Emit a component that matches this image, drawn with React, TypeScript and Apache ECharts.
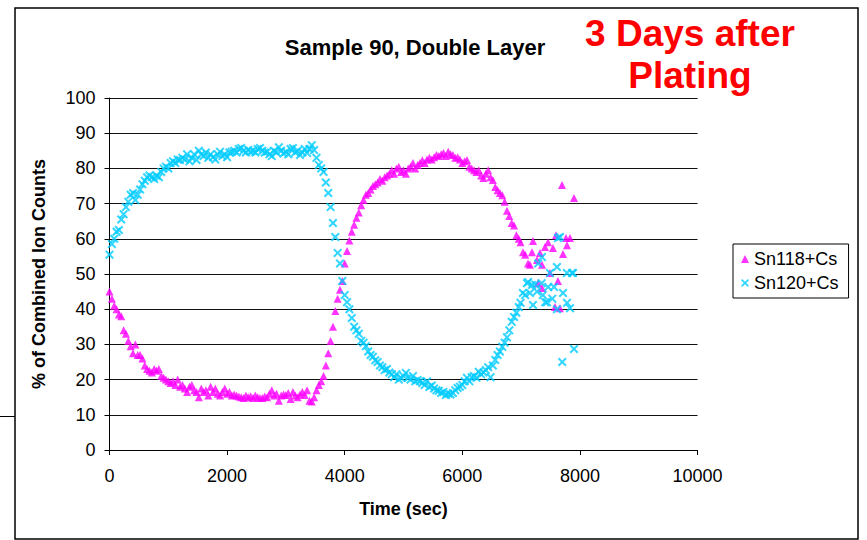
import React, { useEffect, useRef } from "react";
import * as echarts from "echarts";

// Sampling times (sec) of the regular part of the profile
const times = [
  0, 40, 80, 120, 160, 200, 240, 280, 320, 360,
  400, 440, 480, 520, 560, 600, 640, 680, 720, 760,
  800, 840, 880, 920, 960, 1000, 1040, 1080, 1120, 1160,
  1200, 1240, 1280, 1320, 1360, 1400, 1440, 1480, 1520, 1560,
  1600, 1640, 1680, 1720, 1760, 1800, 1840, 1880, 1920, 1960,
  2000, 2040, 2080, 2120, 2160, 2200, 2240, 2280, 2320, 2360,
  2400, 2440, 2480, 2520, 2560, 2600, 2640, 2680, 2720, 2760,
  2800, 2840, 2880, 2920, 2960, 3000, 3040, 3080, 3120, 3160,
  3200, 3240, 3280, 3320, 3360, 3400, 3440, 3480, 3520, 3560,
  3600, 3640, 3680, 3720, 3760, 3800, 3840, 3880, 3920, 3960,
  4000, 4040, 4080, 4120, 4160, 4200, 4240, 4280, 4320, 4360,
  4400, 4440, 4480, 4520, 4560, 4600, 4640, 4680, 4720, 4760,
  4800, 4840, 4880, 4920, 4960, 5000, 5040, 5080, 5120, 5160,
  5200, 5240, 5280, 5320, 5360, 5400, 5440, 5480, 5520, 5560,
  5600, 5640, 5680, 5720, 5760, 5800, 5840, 5880, 5920, 5960,
  6000, 6040, 6080, 6120, 6160, 6200, 6240, 6280, 6320, 6360,
  6400, 6440, 6480, 6520, 6560, 6600, 6640, 6680, 6720, 6760,
  6800, 6840, 6880, 6920, 6960,
];

// Sn118+Cs (% of combined ion counts)
const sn118 = [
  45, 43, 41, 40, 38.5, 38, 34, 33, 31, 29.5,
  27.5, 30, 27, 27, 26, 24, 23, 22.5, 22, 23,
  22.5, 23, 21, 20.5, 20, 19.5, 19, 19.5, 18.5, 20,
  18, 18.5, 17.5, 16.5, 18, 18.5, 17, 16.5, 15, 17.5,
  16.5, 17, 15.5, 18, 16.5, 17.5, 16, 15.5, 16.5, 17.5,
  16, 16.5, 15.5, 15.8, 15.5, 15.2, 15, 14.8, 15.5, 15,
  15.3, 14.8, 15.5, 15, 14.8, 14.8, 15.2, 15, 16, 17,
  15.5, 16, 14, 15.5, 15.8, 15.6, 16.2, 14.5, 16.5, 15.5,
  15, 15.8, 16.5, 15.6, 17, 14, 13.8, 15, 17, 18.5,
  19.5, 21, 24, 27.5, 31, 35, 39.5, 43, 45.5, 48,
  53, 56.5, 59.5, 62, 64, 66, 67.5, 69.5, 71, 72.5,
  73, 74, 75, 75.5, 76, 77, 76.5, 77.5, 78, 78.5,
  79.5, 78.5, 80, 80.5, 79, 79.5, 78.5, 80, 80.5, 81.5,
  80, 81, 81.5, 82.3, 81.5, 82.5, 83, 82.5, 83.2, 83.8,
  83.5, 84, 84.4, 83.5, 84.7, 84, 83.8, 83, 83.2, 82.5,
  81.5, 82, 82.4, 80.5, 80, 79.5, 79, 79.5, 78, 77.3,
  78.5, 79.5, 77.5, 76.7, 74.7, 73.8, 73, 72.4, 70.5, 68,
  66.5, 64.5, 63.8, 61, 60,
];

// Sn120+Cs (% of combined ion counts)
const sn120 = [
  55.5, 58.5, 60, 62, 62.5, 65.5, 67, 69, 70.5, 72.5,
  73, 71, 72.5, 74, 75.5, 76.5, 77.5, 78, 77.5, 77,
  78, 77.5, 79, 80, 80.5, 80, 81.5, 82, 81.5, 82.5,
  82.4, 83, 82.5, 84, 82, 83, 84, 82.4, 85, 84,
  83.5, 84.5, 83, 84, 83.2, 82.5, 84, 84.7, 83.5, 84,
  83.2, 84.5, 84.7, 85, 84.5, 85.5, 85.8, 85, 84.5, 85.2,
  84.7, 85, 84.5, 85.5, 85.8, 85, 84.5, 84.7, 84, 83.5,
  85, 84.5, 86, 85, 84.2, 84.7, 84, 85.5, 85.8, 84.5,
  85, 83.8, 84.5, 85.5, 84.4, 85.5, 86.6, 85.2, 83, 81,
  80, 79, 76, 73, 69, 64.5, 60.5, 56, 53, 48,
  44, 42, 40, 37.5, 35, 34, 33, 31, 30.5, 29.5,
  28, 27, 26.5, 25.5, 25, 24, 23.5, 22.7, 23, 22,
  21.5, 20.7, 21.5, 20, 20.5, 21, 21.9, 20.5, 20, 21,
  19.5, 19.9, 19.5, 19, 18.5, 19.5, 17.9, 18.3, 17.5, 17,
  16.8, 16.2, 16.5, 15.6, 16, 15.8, 16.2, 17, 17.6, 18,
  18.5, 19.5, 20.5, 19.5, 20.7, 21, 20.5, 22.2, 21.5, 22,
  22.7, 23.5, 20.7, 24, 25.6, 27, 28, 29.3, 30.5, 32,
  34, 36.4, 37.8, 39, 40.6,
];

// Scattered end of the profile (irregular points)
const tail118Times = [6990, 7032, 7070, 7117, 7150, 7185, 7202, 7270, 7287, 7321, 7355, 7355, 7406, 7457, 7491, 7541, 7576, 7594, 7627, 7661, 7696, 7713, 7764, 7781, 7832, 7900];
const tail118Values = [59, 56.2, 55.5, 53, 52.6, 56.2, 59.4, 54, 47.4, 56, 52.6, 46, 57.7, 59, 50.3, 57.4, 40.6, 61, 48, 40.3, 75.3, 55.7, 60.2, 58.2, 60.2, 71.6];

const tail120Times = [6990, 7030, 7070, 7100, 7120, 7150, 7185, 7202, 7240, 7270, 7290, 7350, 7355, 7370, 7410, 7440, 7460, 7491, 7530, 7560, 7610, 7627, 7610, 7661, 7700, 7713, 7781, 7780, 7832, 7865, 7883, 7900];
const tail120Values = [41.8, 44.6, 44, 47.4, 47.7, 44.6, 46.9, 41.2, 47, 45, 53, 47.4, 54.8, 44, 42, 42, 46.3, 50.3, 43, 46.3, 52, 60.2, 40, 60.5, 25, 44.6, 41.8, 50.3, 40.3, 50.3, 50.3, 28.7];

const seriesNames = ["Sn118+Cs", "Sn120+Cs"];
const xTicks = { min: 0, max: 10000, interval: 2000 };
const yTicks = { min: 0, max: 100, interval: 10 };

const FONT = "'Liberation Sans', Arial, Helvetica, sans-serif";
const X_ICON = "path://M0,1.6L1.6,0L5,3.4L8.4,0L10,1.6L6.6,5L10,8.4L8.4,10L5,6.6L1.6,10L0,8.4L3.4,5Z";

export default function App() {
  const ref = useRef<HTMLDivElement>(null);

  useEffect(() => {
    if (!ref.current) return;
    const chart = echarts.init(ref.current, undefined, { renderer: "svg" });

    const d118 = times.map((t, i) => [t, sn118[i]]).concat(tail118Times.map((t, i) => [t, tail118Values[i]]));
    const d120 = times.map((t, i) => [t, sn120[i]]).concat(tail120Times.map((t, i) => [t, tail120Values[i]]));

    chart.setOption({
      animation: false,
      backgroundColor: "#fff",
      textStyle: { fontFamily: FONT },
      grid: { left: 109.5, right: 169.5, top: 98, bottom: 90, containLabel: false },
      xAxis: {
        type: "value",
        min: xTicks.min,
        max: xTicks.max,
        interval: xTicks.interval,
        axisLine: { show: true, lineStyle: { color: "#000", width: 1 } },
        axisTick: { show: true, length: 5, lineStyle: { color: "#000" } },
        axisLabel: {
          fontSize: 18,
          color: "#000",
          margin: 17,
          fontFamily: FONT,
          formatter: (v: number) => String(v),
        },
        splitLine: { show: false },
        name: "Time (sec)",
        nameLocation: "middle",
        nameGap: 50,
        nameTextStyle: { fontSize: 18, fontWeight: "bold", color: "#000", fontFamily: FONT },
      },
      yAxis: {
        type: "value",
        min: yTicks.min,
        max: yTicks.max,
        interval: yTicks.interval,
        axisLine: { show: true, onZero: false, lineStyle: { color: "#000", width: 1 } },
        axisTick: { show: true, length: 5, lineStyle: { color: "#000" } },
        axisLabel: { fontSize: 18, color: "#000", margin: 14, fontFamily: FONT },
        splitLine: { show: true, lineStyle: { color: "#111", width: 1 } },
        name: "% of Combined Ion Counts",
        nameLocation: "middle",
        nameGap: 62,
        nameTextStyle: { fontSize: 18, fontWeight: "bold", color: "#000", fontFamily: FONT },
      },
      legend: {
        orient: "vertical",
        left: 733,
        top: 244,
        borderColor: "#000",
        borderWidth: 1,
        padding: [6, 10, 6, 8],
        itemGap: 6,
        itemWidth: 8,
        itemHeight: 8,
        textStyle: { fontSize: 18, color: "#000", fontFamily: FONT },
        data: [
          { name: seriesNames[0], icon: "triangle" },
          { name: seriesNames[1], icon: X_ICON },
        ],
      },
      graphic: [
        {
          type: "rect",
          silent: true,
          z: -10,
          shape: { x: 15, y: 8, width: 843, height: 531 },
          style: { fill: "none", stroke: "#000", lineWidth: 1.5 },
        },
        {
          type: "line",
          silent: true,
          shape: { x1: 0, y1: 416.5, x2: 15, y2: 416.5 },
          style: { stroke: "#000", lineWidth: 1 },
        },
        {
          type: "text",
          x: 415,
          y: 47,
          style: {
            text: "Sample 90, Double Layer",
            align: "center",
            verticalAlign: "middle",
            fontSize: 22,
            fontWeight: "bold",
            fontFamily: FONT,
            fill: "#000",
          },
        },
        {
          type: "text",
          x: 690,
          y: 54,
          style: {
            text: "3 Days after\nPlating",
            align: "center",
            verticalAlign: "middle",
            fontSize: 37,
            lineHeight: 42,
            fontWeight: "bold",
            fontFamily: FONT,
            fill: "#ff0000",
          },
        },
      ],
      series: [
        {
          name: seriesNames[0],
          type: "scatter",
          symbol: "triangle",
          symbolSize: 8,
          itemStyle: { color: "#ff00ff" },
          data: d118,
        },
        {
          name: seriesNames[1],
          type: "scatter",
          symbol: X_ICON,
          symbolSize: 9,
          itemStyle: { color: "#00ccff" },
          data: d120,
        },
      ],
    });

    return () => chart.dispose();
  }, []);

  return (
    <div
      ref={ref}
      style={{ position: "fixed", left: 0, top: 0, width: 867, height: 540, background: "#fff" }}
    />
  );
}
